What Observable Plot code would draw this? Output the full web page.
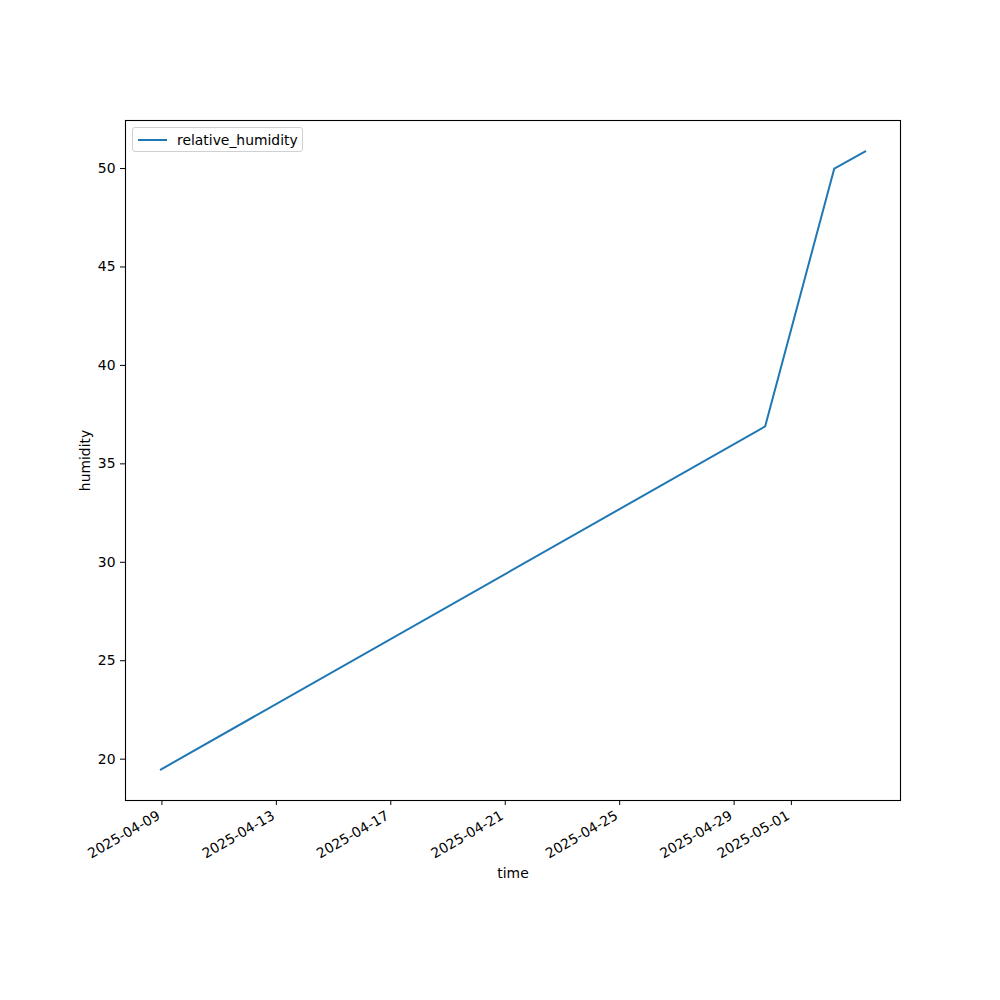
<!DOCTYPE html>
<html><head><meta charset="utf-8">
<script src="https://cdn.jsdelivr.net/npm/d3@7"></script>
<script src="https://cdn.jsdelivr.net/npm/@observablehq/plot@0.6"></script>
<style>
body{margin:0;background:#fff;font-family:"DejaVu Sans",sans-serif}
#wrap{position:relative;width:1000px;height:1000px}
#legend{position:absolute;left:132px;top:127px;width:169px;height:23px;border:1px solid #d0d0d0;border-radius:3px;background:rgba(255,255,255,0.8);font-size:13.9px;display:flex;align-items:center}
#legend .sw{display:inline-block;width:29px;height:2px;background:#1f77b4;margin-left:5px;margin-right:10px}
</style></head><body><div id="wrap"></div>
<script>
const times = ["2025-04-08T23:00","2025-04-30T02:00","2025-05-02T12:00","2025-05-03T14:00"];
const humidity = [19.47, 36.9, 50.0, 50.87];
const xTickLabels = ["2025-04-09","2025-04-13","2025-04-17","2025-04-21","2025-04-25","2025-04-29","2025-05-01"];
const yTicks = [20,25,30,35,40,45,50];
const seriesName = "relative_humidity";

const data = times.map((t,i)=>({time:new Date(t+"Z"), value:humidity[i]}));
const tmin = d3.min(data,d=>+d.time), tmax = d3.max(data,d=>+d.time);
const tspan = tmax - tmin;
const xDomain = [new Date(tmin - 0.05*tspan), new Date(tmax + 0.05*tspan)];
const vmin = d3.min(humidity), vmax = d3.max(humidity), vspan = vmax - vmin;
const yDomain = [vmin - 0.05*vspan, vmax + 0.05*vspan];
const xTicks = xTickLabels.map(s=>new Date(s+"T00:00Z"));

const chart = Plot.plot({
  width:1000, height:1000,
  marginLeft:125, marginRight:100, marginTop:120, marginBottom:200,
  style:{fontFamily:"DejaVu Sans", fontSize:"13.9px", color:"black", background:"white", overflow:"visible"},
  x:{type:"utc", domain:xDomain},
  y:{domain:yDomain},
  marks:[
    Plot.line(data,{x:"time", y:"value", stroke:"#1f77b4", strokeWidth:2}),
    Plot.frame({stroke:"black", strokeWidth:1.1}),
    Plot.axisX({ticks:xTicks, tickFormat:()=>"", tickSize:5, label:null, stroke:"black"}),
    Plot.axisX({ticks:xTicks, tickFormat:d3.utcFormat("%Y-%m-%d"), tickRotate:-30, tickSize:0, tickPadding:4, dx:-3, dy:10, label:null, fill:"black"}),
    Plot.axisY({ticks:yTicks, tickSize:5, tickPadding:5, label:null, stroke:"black", fill:"black"}),
    Plot.text(["time"], {frameAnchor:"bottom", dy:77, text:d=>d, fill:"black"}),
    Plot.text(["humidity"], {frameAnchor:"left", textAnchor:"middle", dx:-40, rotate:-90, text:d=>d, fill:"black"})
  ]
});
const wrap = document.getElementById("wrap");
wrap.appendChild(chart);
const lg = document.createElement("div");
lg.id = "legend";
lg.innerHTML = '<span class="sw"></span><span></span>';
lg.lastChild.textContent = seriesName;
wrap.appendChild(lg);
</script>
</body></html>
